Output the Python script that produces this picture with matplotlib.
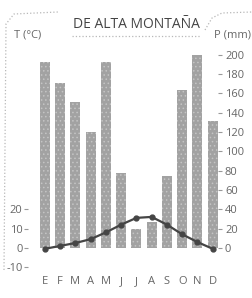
import matplotlib.pyplot as plt
from matplotlib.lines import Line2D

# --- DATA ---
months = ["E", "F", "M", "A", "M", "J", "J", "A", "S", "O", "N", "D"]
precip_mm = [192, 171, 151, 120, 192, 77, 19, 27, 74, 163, 200, 131]
temp_c = [-0.5, 1, 2.5, 4.5, 8, 12, 15.5, 16, 12, 7, 3, -0.5]
p_ticks = [0, 20, 40, 60, 80, 100, 120, 140, 160, 180, 200]
t_ticks = [-10, 0, 10, 20]

plt.rcParams["font.family"] = ["Open Sans", "DejaVu Sans"]
plt.rcParams["hatch.linewidth"] = 0.6

TXT = '#666666'
BAR = '#a2a2a2'
LINE = '#454545'
W, H = 252, 298

fig = plt.figure(figsize=(W / 100, H / 100), dpi=100)
ax = fig.add_axes([28 / W, 1 - 272 / H, 190 / W, (272 - 41) / H])

x = list(range(len(months)))
# stippled grey bars
ax.bar(x, precip_mm, width=0.65, color=BAR, edgecolor='#c4c4c4', linewidth=0, hatch='....')
ax.set_xlim(-1.11, 11.35)
ax.set_ylim(-25, 214)

# temperature on twin axis, 1 degree = 2 mm
ax2 = ax.twinx()
lo, hi = ax.get_ylim()
ax2.set_ylim(lo / 2, hi / 2)
ax2.plot(x, temp_c, color=LINE, linewidth=1.6, marker='o', markersize=3.5, zorder=3)

# precipitation ticks on the right
ax.yaxis.tick_right()
ax.set_yticks(p_ticks)
ax.set_yticklabels([str(v) for v in p_ticks])
ax.tick_params(axis='y', which='both', left=False, labelleft=False, right=True, labelright=True,
               direction='out', length=3, pad=2, color='#999999', labelsize=8, labelcolor=TXT)
ax.set_xticks(x)
ax.set_xticklabels(months)
ax.tick_params(axis='x', length=0, pad=3, labelsize=8, labelcolor=TXT)

# temperature ticks on the left
ax2.set_yticks(t_ticks)
ax2.set_yticklabels([str(v) for v in t_ticks])
ax2.tick_params(axis='y', which='both', left=True, labelleft=True, right=False, labelright=False,
                direction='out', length=3, pad=1, color='#999999', labelsize=8, labelcolor=TXT)

for a in (ax, ax2):
    for s in a.spines.values():
        s.set_visible(False)

# --- TITLES ---
fig.text(136 / W, 1 - 25 / H, "DE ALTA MONTAÑA", ha='center', va='center',
         fontsize=10, color='#444444')
fig.text(14 / W, 1 - 35 / H, "T (°C)", ha='left', va='center', fontsize=8, color=TXT)
fig.text(251 / W, 1 - 35 / H, "P (mm)", ha='right', va='center', fontsize=8, color=TXT)

# decorative dotted frame
deco = dict(color='#b8b8b8', linestyle=':', linewidth=0.9, transform=fig.transFigure)
fig.add_artist(Line2D([72 / W, 200 / W], [1 - 36 / H, 1 - 36 / H], **deco))
fig.add_artist(Line2D([4 / W, 6 / W, 14 / W, 58 / W],
                      [1 - 270 / H, 1 - 24 / H, 1 - 14 / H, 1 - 12 / H], **deco))
fig.add_artist(Line2D([205 / W, 212 / W, 222 / W, 252 / W],
                      [1 - 30 / H, 1 - 18 / H, 1 - 13 / H, 1 - 12 / H], **deco))

fig.savefig("out.png", dpi=100)
